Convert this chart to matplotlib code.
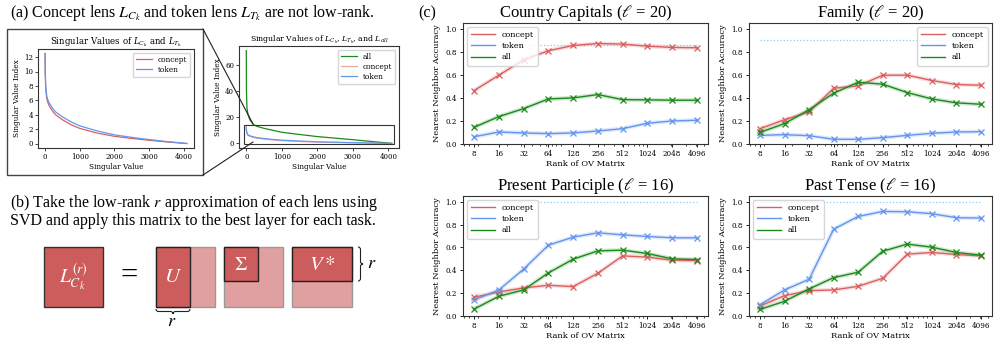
import matplotlib
matplotlib.use("Agg")
import matplotlib.pyplot as plt
from matplotlib.patches import Rectangle, PathPatch
from matplotlib.path import Path
from matplotlib.lines import Line2D
from matplotlib.ticker import NullFormatter

# ---------------- data ----------------
sv_index = [0, 5, 20, 50, 100, 200, 300, 500, 750, 1000, 1500, 2000, 2500, 3000, 3500, 4095]
sv_concept = [12.5, 9.5, 7.5, 6.2, 5.4, 4.6, 4.0, 3.3, 2.6, 2.1, 1.45, 1.0, 0.7, 0.45, 0.22, 0.0]
sv_token = [12.5, 9.8, 7.8, 6.5, 5.8, 5.0, 4.4, 3.7, 3.0, 2.45, 1.75, 1.2, 0.85, 0.55, 0.28, 0.0]
sv_all = [71, 40, 27, 22, 18, 14.5, 13, 11.5, 10, 8.5, 6.8, 5.2, 4.0, 2.8, 1.5, 0.0]

ranks = [8, 16, 32, 64, 128, 256, 512, 1024, 2048, 4096]
task_titles = [r"Country Capitals ($\ell$ = 20)", r"Family ($\ell$ = 20)",
               r"Present Participle ($\ell$ = 16)", r"Past Tense ($\ell$ = 16)"]
ref_level = [0.86, 0.90, 1.0, 1.0]
acc_concept = [
    [0.464, 0.597, 0.73, 0.809, 0.855, 0.872, 0.867, 0.849, 0.838, 0.835],
    [0.133, 0.211, 0.278, 0.484, 0.504, 0.597, 0.597, 0.551, 0.516, 0.51],
    [0.164, 0.21, 0.246, 0.269, 0.257, 0.374, 0.526, 0.515, 0.488, 0.485],
    [0.088, 0.178, 0.222, 0.228, 0.26, 0.33, 0.541, 0.556, 0.538, 0.526],
]
acc_token = [
    [0.063, 0.104, 0.096, 0.09, 0.096, 0.113, 0.133, 0.18, 0.2, 0.206],
    [0.075, 0.081, 0.072, 0.041, 0.041, 0.055, 0.075, 0.093, 0.104, 0.107],
    [0.14, 0.228, 0.41, 0.62, 0.69, 0.728, 0.71, 0.696, 0.684, 0.684],
    [0.099, 0.228, 0.322, 0.76, 0.871, 0.915, 0.912, 0.895, 0.86, 0.857],
]
acc_all = [
    [0.145, 0.238, 0.307, 0.391, 0.40, 0.429, 0.385, 0.383, 0.38, 0.38],
    [0.101, 0.177, 0.298, 0.441, 0.536, 0.519, 0.446, 0.391, 0.357, 0.345],
    [0.061, 0.173, 0.228, 0.377, 0.497, 0.57, 0.576, 0.547, 0.50, 0.494],
    [0.058, 0.129, 0.237, 0.336, 0.383, 0.567, 0.629, 0.602, 0.556, 0.532],
]
legend_locs = ["upper left", "upper right", "upper left", "upper left"]

C_RED = "#d96060"
C_BLUE = "#6495ed"
C_GREEN = "#1a8a1a"

W, H = 996, 342
fig = plt.figure(figsize=(W / 100, H / 100), dpi=100)
plt.rcParams["font.family"] = "DejaVu Serif"
plt.rcParams["mathtext.fontset"] = "dejavuserif"
plt.rcParams["axes.edgecolor"] = "#333333"
plt.rcParams["axes.linewidth"] = 0.8


def ax_px(x0, y0, x1, y1, **kw):
    return fig.add_axes([x0 / W, 1 - y1 / H, (x1 - x0) / W, (y1 - y0) / H], **kw)


# ---------------- (a) insets ----------------
def style_small(ax, fs_tick=5):
    ax.tick_params(labelsize=fs_tick, length=2, width=0.5, pad=1.5)


axL = ax_px(38, 49, 194, 148)
axL.plot(sv_index, sv_concept, color=C_RED, lw=0.9, label="concept")
axL.plot(sv_index, sv_token, color=C_BLUE, lw=0.9, label="token")
axL.set_xticks([0, 1000, 2000, 3000, 4000])
axL.set_yticks([0, 2, 4, 6, 8, 10, 12])
style_small(axL)
axL.set_title(r"Singular Values of $L_{C_k}$ and $L_{T_k}$", fontsize=6.2, pad=3)
axL.set_xlabel("Singular Value", fontsize=5.3, labelpad=1.5)
axL.set_ylabel("Singular Value Index", fontsize=5.3, labelpad=2)
axL.legend(loc="upper right", fontsize=5.3, handlelength=2.2, borderpad=0.4, labelspacing=0.3, framealpha=0.8)

axR = ax_px(239, 46, 399, 148)
axR.plot(sv_index, sv_all, color=C_GREEN, lw=0.9, label="all")
axR.plot(sv_index, sv_concept, color=C_RED, lw=0.9, alpha=0.55, label="concept")
axR.plot(sv_index, sv_token, color=C_BLUE, lw=0.9, label="token")
axR.set_xticks([0, 1000, 2000, 3000, 4000])
axR.set_yticks([0, 20, 40, 60])
style_small(axR)
axR.set_title(r"Singular Values of $L_{C_k}$, $L_{T_k}$, and $L_{all}$", fontsize=5.6, pad=3)
axR.set_xlabel("Singular Value", fontsize=5.3, labelpad=1.5)
axR.set_ylabel("Singular Value Index", fontsize=5.3, labelpad=2)
axR.legend(loc="upper right", fontsize=5.3, handlelength=2.2, borderpad=0.4, labelspacing=0.3, framealpha=0.8)
axR.add_patch(Rectangle((-60, -0.2), 4210, 14.0, fill=False, ec="#333333", lw=0.8, zorder=5))

# ---------------- (c) accuracy plots ----------------
pos = [(463, 23, 708, 144), (749, 23, 992, 144), (463, 196, 708, 316), (749, 196, 992, 316)]
for i in range(4):
    ax = ax_px(*pos[i])
    ax.hlines(ref_level[i], ranks[0], ranks[-1], colors="#87cefa", linestyles=":", lw=0.9, zorder=1)
    for vals, col in ((acc_concept[i], C_RED), (acc_token[i], C_BLUE), (acc_all[i], C_GREEN)):
        ax.plot(ranks, vals, color=col, lw=3.0, alpha=0.2, solid_capstyle="round", zorder=2)
        ax.plot(ranks, vals, color=col, lw=1.0, marker="x", ms=4, mew=0.9, zorder=3)
    ax.set_xscale("log")
    ax.set_xticks(ranks)
    ax.set_xticklabels([str(r) for r in ranks])
    ax.xaxis.set_minor_formatter(NullFormatter())
    ax.set_ylim(0, 1.05)
    ax.set_yticks([0, 0.2, 0.4, 0.6, 0.8, 1.0])
    ax.tick_params(labelsize=5.1, length=2.5, width=0.6, pad=2)
    ax.tick_params(which="minor", length=1.5, width=0.5)
    ax.set_xlabel("Rank of OV Matrix", fontsize=6, labelpad=1.5)
    ax.set_ylabel("Nearest Neighbor Accuracy", fontsize=6, labelpad=3)
    ax.set_title(task_titles[i], fontsize=12, family="Liberation Serif", math_fontfamily="stix", pad=3)
    handles = [Line2D([], [], color=C_RED, lw=1.0), Line2D([], [], color=C_BLUE, lw=1.0),
               Line2D([], [], color=C_GREEN, lw=1.0)]
    ax.legend(handles, ["concept", "token", "all"], loc=legend_locs[i], fontsize=5.8,
              handlelength=3.0, borderpad=0.5, labelspacing=0.4, framealpha=0.8)

# ---------------- overlay for text and diagram ----------------
ov = fig.add_axes([0, 0, 1, 1], zorder=10)
ov.set_xlim(0, W)
ov.set_ylim(H, 0)
ov.axis("off")
ov.patch.set_alpha(0)

TF = dict(family="Liberation Serif", math_fontfamily="stix")
ov.text(10, 13, r"(a) Concept lens $L_{C_k}$ and token lens $L_{T_k}$ are not low-rank.",
        fontsize=11.5, va="center", ha="left", **TF)
ov.text(10, 203, r"(b) Take the low-rank $r$ approximation of each lens using",
        fontsize=11.5, va="center", ha="left", **TF)
ov.text(10, 221, "SVD and apply this matrix to the best layer for each task.",
        fontsize=11.5, va="center", ha="left", **TF)
ov.text(418, 13, "(c)", fontsize=11.5, va="center", ha="left", **TF)

# inset box and connectors
ov.add_patch(Rectangle((7, 29), 196, 146, fill=False, ec="#444444", lw=1.0))
ov.plot([203, 253], [29, 124], color="#222222", lw=0.8)
ov.plot([203, 253], [175, 142], color="#222222", lw=0.8)

DARK = "#cd5c5c"
LIGHT = "#e0a0a0"


def rect(x0, y0, x1, y1, fc, ec, lw):
    ov.add_patch(Rectangle((x0, y0), x1 - x0, y1 - y0, fc=fc, ec=ec, lw=lw))


# L matrix
rect(44, 247, 103, 307, DARK, "#333333", 1.0)
ov.text(73.5, 277, r"$L_{C_k}^{(r)}$", color="white", fontsize=14, ha="center", va="center", **TF)
ov.text(129, 276, "=", fontsize=22, ha="center", va="center", **TF)
# U
rect(156, 247, 215, 307, LIGHT, "#999999", 1.0)
rect(156, 247, 190, 307, DARK, "#222222", 1.0)
ov.text(173, 278, r"$U$", color="white", fontsize=15, ha="center", va="center", **TF)
# Sigma
rect(224, 247, 283, 307, LIGHT, "#999999", 1.0)
rect(224, 247, 258, 281, DARK, "#222222", 1.0)
ov.text(241, 265, r"$\Sigma$", color="white", fontsize=14, ha="center", va="center", **TF)
# V*
rect(292, 247, 352, 307, LIGHT, "#999999", 1.0)
rect(292, 247, 352, 281, DARK, "#222222", 1.0)
ov.text(322, 265, r"$V*$", color="white", fontsize=15, ha="center", va="center", **TF)


def brace_v(x, y0, y1, w):
    ym = (y0 + y1) / 2
    h = w / 2
    verts = [(x, y0), (x + h, y0), (x + h, y0 + h),
             (x + h, ym - h), (x + h, ym), (x + w, ym),
             (x + h, ym), (x + h, ym + h),
             (x + h, y1 - h), (x + h, y1), (x, y1)]
    codes = [Path.MOVETO, Path.CURVE3, Path.CURVE3,
             Path.LINETO, Path.CURVE3, Path.CURVE3,
             Path.CURVE3, Path.CURVE3,
             Path.LINETO, Path.CURVE3, Path.CURVE3]
    ov.add_patch(PathPatch(Path(verts, codes), fill=False, ec="#222222", lw=0.8))


def brace_h(x0, x1, y, w):
    xm = (x0 + x1) / 2
    h = w / 2
    verts = [(x0, y), (x0, y + h), (x0 + h, y + h),
             (xm - h, y + h), (xm, y + h), (xm, y + w),
             (xm, y + h), (xm + h, y + h),
             (x1 - h, y + h), (x1, y + h), (x1, y)]
    codes = [Path.MOVETO, Path.CURVE3, Path.CURVE3,
             Path.LINETO, Path.CURVE3, Path.CURVE3,
             Path.CURVE3, Path.CURVE3,
             Path.LINETO, Path.CURVE3, Path.CURVE3]
    ov.add_patch(PathPatch(Path(verts, codes), fill=False, ec="#222222", lw=0.8))


brace_v(358, 247, 281, 5)
ov.text(372, 264, r"$r$", fontsize=13, ha="center", va="center", **TF)
brace_h(156, 190, 309, 5)
ov.text(172, 321, r"$r$", fontsize=13, ha="center", va="center", **TF)

fig.savefig("out.png", dpi=100)
